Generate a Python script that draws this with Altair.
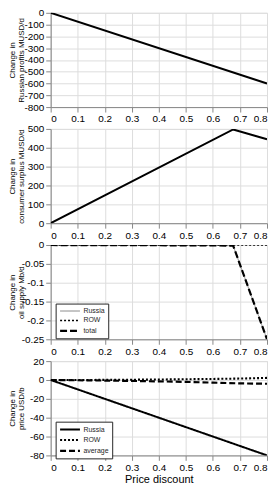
import altair as alt
import pandas as pd

FONT = "Liberation Sans"
TXT = "#262626"

# ---- data ----
x_ticks = [0, 0.1, 0.2, 0.3, 0.4, 0.5, 0.6, 0.7, 0.8]

discount_profit = [0.0, 0.8]
russian_profit = [0, -600]

discount_surplus = [0.0, 0.675, 0.8]
consumer_surplus = [0, 497, 445]

discount_supply = [0.0, 0.6, 0.675, 0.8]
supply_russia = [0, -0.001, -0.002, -0.25]
supply_row = [0, 0, 0, 0]
supply_total = [0, -0.001, -0.002, -0.25]

discount_price = [0.0, 0.1, 0.2, 0.3, 0.4, 0.5, 0.6, 0.7, 0.8]
price_russia = [0, -10, -20, -30, -40, -50, -60, -70, -80]
price_row = [0, 0, 0.1, 0.3, 0.5, 0.8, 1.1, 1.5, 2.2]
price_average = [0, -0.3, -0.6, -1.0, -1.5, -2.0, -2.8, -3.6, -4.0]

y1_ticks = [0, -100, -200, -300, -400, -500, -600, -700, -800]
y2_ticks = [0, 100, 200, 300, 400, 500]
y3_ticks = [0, -0.05, -0.1, -0.15, -0.2, -0.25]
y4_ticks = [20, 0, -20, -40, -60, -80]

W = 218
H = 95
LABEL_EXPR = "replace(datum.label, '\u2212', '-')"


def x_enc(show_title):
    return alt.X(
        "d:Q",
        scale=alt.Scale(domain=[0, 0.8], nice=False),
        axis=alt.Axis(values=x_ticks, format=".1~f",
                      title="Price discount" if show_title else None,
                      titlePadding=1, titleFontWeight="normal",
                      labelFontWeight="normal"),
    )


def y_enc(title, domain, ticks, fmt):
    return alt.Y(
        "v:Q",
        scale=alt.Scale(domain=domain, nice=False, zero=False),
        axis=alt.Axis(values=ticks, format=fmt, labelExpr=LABEL_EXPR,
                      title=title, titleX=-34, titleY=H / 2, titleAngle=270,
                      titleBaseline="bottom", titleAlign="center",
                      titleLineHeight=9,
                      titleFontWeight="normal", titleFontSize=8,
                      labelFontWeight="normal"),
    )


def single(xs, ys, title, domain, ticks):
    df = pd.DataFrame({"d": xs, "v": ys})
    return alt.Chart(df).mark_line(color="black", strokeWidth=2, clip=True).encode(
        x=x_enc(False), y=y_enc(title, domain, ticks, "d")
    ).properties(width=W, height=H)


def multi(xs, series, names, colors, dashes, widths, title, domain, ticks, fmt,
          legend_y, show_xtitle):
    rows = []
    for name, vals in zip(names, series):
        for d, v in zip(xs, vals):
            rows.append({"d": d, "v": v, "s": name})
    df = pd.DataFrame(rows)
    legend = alt.Legend(
        title=None, orient="none", legendX=5, legendY=legend_y,
        symbolType="M-1,0H4", symbolSize=64, labelFontSize=7,
        labelFont=FONT, labelColor=TXT, fillColor="white",
        strokeColor=TXT, padding=3, rowPadding=1, labelOffset=14,
        symbolStrokeColor="black",
    )
    return alt.Chart(df).mark_line(clip=True).encode(
        x=x_enc(show_xtitle),
        y=y_enc(title, domain, ticks, fmt),
        color=alt.Color("s:N", scale=alt.Scale(domain=names, range=colors), legend=legend,
                        sort=names),
        strokeDash=alt.StrokeDash("s:N", scale=alt.Scale(domain=names, range=dashes),
                                  legend=legend, sort=names),
        strokeWidth=alt.StrokeWidth("s:N", scale=alt.Scale(domain=names, range=widths),
                                    legend=legend, sort=names),
    ).properties(width=W, height=H)


p1 = single(discount_profit, russian_profit, ["Change in", "Russian profits MUSD/d"],
            [-800, 0], y1_ticks)
p2 = single(discount_surplus, consumer_surplus, ["Change in", "consumer surplus MUSD/d"],
            [0, 500], y2_ticks)
p3 = multi(discount_supply, [supply_russia, supply_row, supply_total],
           ["Russia", "ROW", "total"], ["#8a8a8a", "black", "black"],
           [[1, 0], [2, 2], [7, 3]], [1, 2.2, 3],
           ["Change in", "oil supply Mb/d"], [-0.25, 0], y3_ticks, ".2~f", 59, False)
p4 = multi(discount_price, [price_russia, price_row, price_average],
           ["Russia", "ROW", "average"], ["black", "black", "black"],
           [[1, 0], [2, 2], [6, 3]], [2, 2.2, 2],
           ["Change in", "price USD/b"], [-80, 20], y4_ticks, "d", 61, True)

chart = alt.vconcat(p1, p2, p3, p4, spacing=22, bounds="flush").resolve_scale(
    color="independent", strokeDash="independent", strokeWidth="independent"
).resolve_legend(
    color="independent", strokeDash="independent", strokeWidth="independent"
).properties(
    padding={"left": 0, "top": -3, "right": 0, "bottom": 0}
).configure_view(
    stroke="#7a7a7a", strokeWidth=1
).configure_axis(
    labelFont=FONT, labelFontSize=8, labelColor=TXT, labelPadding=2,
    titleFont=FONT, titleFontSize=8, titleFontWeight="normal", titleColor=TXT,
    grid=True, gridColor="#e4e4e4", gridWidth=1, domain=False, ticks=False,
).configure(background="white")

chart.save("out.html", embed_options={"renderer": "svg", "actions": False})
